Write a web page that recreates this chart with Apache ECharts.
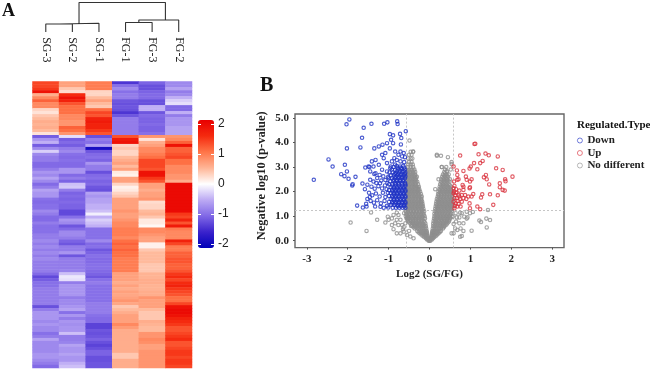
<!DOCTYPE html>
<html><head><meta charset="utf-8">
<style>html,body{margin:0;padding:0;background:#fff}#c{width:650px;height:369px}</style>
<script src="https://cdn.jsdelivr.net/npm/echarts@6/dist/echarts.min.js"></script>
</head><body><div id="c"></div>
<script>
const samples = ['SG-3','SG-2','SG-1','FG-1','FG-3','FG-2'];
const sg3 = [1.4,1.4,1.5,1.9,.6,.9,1.2,.9,.9,.3,.2,.4,.5,.6,.55,.6,.5,.2,-1.15,-.7,-.5,-1.15,-.8,-.3,
 -.8,-.9,-.9,-1.05,-1.05,-.9,-.7,-.8,-.6,-.8,-1.05,-.9,-.6,-.7,-.7,-1,-1.05,-1,-1,-.8,-.9,-1.05,-1.05,-.9,
 -1,-1,-1,-.9,-.9,-.8,-.9,-.8,-.9,-.8,-.9,-.8,-.9,-.9,-.9,-.9,-1.05,-1.3,-1.15,-1,-1,-.9,-.9,-.9,
 -.9,-.9,-.9,-1.25,-.9,-.7,-.7,-.7,-.8,-.7,-.8,-.8,-1,-.9,-.6,-.8,-.8,-.8,-.8,-.7,-.7,-.8,-.9,-1.05];
const sg2 = [.7,.7,.4,.25,1.6,1.9,1.7,1.3,1.1,1.1,1.1,.9,.9,.8,.8,1.2,1.1,.8,-.2,-1.15,-1.05,-1.15,-.9,-.8,
 -1,-1.05,-1,-1.05,-1.05,-.7,-.7,-1.05,-.9,-1.1,-.4,-.35,-.9,-1.1,-1.05,-1.1,-1.05,-1.1,-1.1,-1.3,-1.3,-1,-.7,-.8,
 -1.2,-1.05,-.8,-.8,-.9,-1.1,-1.2,-.9,-.9,-.7,-1.2,-.9,-.9,-.9,-.9,-.85,-.4,-.15,-.2,-.9,-.7,-.7,-.7,-.7,
 -.9,-.8,-.8,-.7,-.6,-1,-.7,-.9,-.7,-.75,-.7,-.7,-.4,-.9,-.9,-.85,-.6,-.7,-.7,-.6,-.7,-.7,-.5,-.4];
const sg1 = [1,1,1,.3,.3,.5,.7,.5,.4,1.1,1.4,1.3,1.7,1.8,1.7,1.7,1.5,1.3,-1.25,-.9,-1,-.6,-1.9,-1.2,
 -1.05,-1,-1.1,-.7,-.9,-.9,-1.25,-1.05,-1,-1.1,-1.05,-1.2,-1.25,-.6,-.7,-.6,-.6,-.5,-.5,-.4,-.1,-.5,-.3,-.4,
 -.5,-1,-1,-1,-1,-.8,-1.05,-1,-1.2,-1.1,-1,-1.05,-1.05,-1,-1,-1.05,-1.1,-1.2,-1,-.9,-1,-1,-1,-1,
 -1,-1,-.9,-.9,-.9,-.9,-1,-1.05,-1.05,-1.35,-1.35,-1.2,-1.25,-1.2,-1.1,-1.25,-1.35,-1.25,-1.1,-1.1,-1.25,-1.25,-1.2,-1.2];
const fg1 = [-1.45,-1,-.8,-1,-.9,-.9,-1.2,-1.25,-1.2,-1.25,-1.45,-1.2,-.9,-.9,-.9,-.9,-.9,-.9,1.3,1.8,1.9,.3,.4,.3,
 .3,.5,.6,.7,.5,.7,.15,.1,.7,.7,.3,.1,.15,.3,.4,.7,.7,.7,.7,.8,.7,.7,.8,.9,
 .9,1,1,1,.9,1.1,1.2,1.1,1.2,1.1,1.1,1,1,1,1,1,.7,.7,.7,.6,.7,.6,.7,.65,
 .7,.8,.65,.4,.5,.6,.7,.7,.7,.9,.75,.6,.6,.6,.6,.6,.6,.6,.6,.4,.4,.6,.6,.6];
const fg3 = [-1.1,-1.25,-1.25,-1.1,-1.05,-1.05,-1.25,-1.25,-.5,-.5,-1.2,-1.05,-1.1,-1.1,-1.05,-1.1,-1.1,-1,.8,.2,.6,.7,.9,.9,
 1,1.1,1.4,1.4,1.4,1.3,1.9,1.9,1.5,1.3,.7,.7,.6,.7,.7,.8,.25,.3,.3,.5,.55,.4,.15,.15,
 .05,.9,.9,.8,.7,.7,.1,.1,.4,.5,.5,.5,.5,.4,.4,.4,.55,.55,.6,.6,.55,.55,.6,.6,
 .8,.7,.7,.7,.5,.4,.4,.4,.6,.55,.5,.5,.8,.8,.9,.85,.7,.7,.8,.8,.8,.8,.8,.8];
const fg2 = [-.8,-.8,-.6,-.9,-.8,-.5,-.3,-.2,-1.05,-1.05,-.5,-.9,-.7,-.7,-.7,-.6,-.6,-.6,.8,.9,1.2,1.9,1.2,1.2,
 1.3,1.4,1.1,1.1,.9,.9,.9,.8,.8,.6,2,2,2,2,2,2,2,2,2,2,1.5,1.4,1.7,1.3,
 1.8,1,.9,.9,.9,1.7,1.4,1,1,1.2,1.2,1.3,1.3,1.2,1.2,1.3,1.5,1.6,1.4,1.6,1.7,1.5,1.4,1.3,
 1.1,1.1,1.4,1.9,2,2,1.9,1.7,1.6,1.5,1.3,1.3,1.4,1.5,1.6,1.3,1.3,1.4,1.5,1.5,1.4,1.5,1.5,1.4];
const heatColumns = [sg3,sg2,sg1,fg1,fg3,fg2];
const colorStops = ['#0000b8','#3a22cc','#8068e6','#bcaaf4','#ffffff','#ffb596','#ff7548','#f52a0f','#e80000'];
const colorTicks = [-2,-1,0,1,2];

/* dendrogram: [x1,h1,x2,h2,mergeHeight] in leaf positions / heights */
const dendroMerges = [
 [0.5,0,1.5,0,8],
 [1,8,2.5,0,8.7],
 [3.5,0,4.5,0,9.5],
 [4,9.5,5.5,0,12],
 [1.75,8.7,5.0,12,29.5]
];

const xTicks = [-3,-2,-1,0,1,2,3];
const yTicks = [0,1,2,3,4,5];
const downPoints = [
[-1.96,4.94],[-2.03,4.74],[-1.61,4.6],[-1.42,4.76],[-1.11,4.76],[-1.03,4.82],[-.79,4.86],[-.78,4.75],[-.58,4.46],[-.72,4.35],[-1.65,4.19],[-.69,4.18],[-2.02,3.76],[-1.69,3.8],[-.97,4.34],[-.89,4.29],[-.94,4.11],[-.89,3.97],[-1.04,3.97],[-1.15,3.91],[-1.24,3.84],[-1.35,3.76],[-.97,3.76],[-.7,3.92],[-2.47,3.31],[-2.37,3.02],[-2.07,3.09],[-2.16,2.71],[-2.02,2.82],[-2.08,2.63],[-1.98,2.52],[-1.81,2.6],[-1.88,2.3],[-1.89,2.25],[-1.64,2.33],[-1.77,1.43],[-1.63,1.35],[-1.54,1.39],[-1.33,1.39],[-2.83,2.48],
[-.84,3.63],[-.71,3.63],[-.63,3.57],[-.76,3.5],[-.67,3.43],[-.86,3.36],[-.8,3.29],[-.71,3.23],[-.92,3.23],[-1.08,3.57],[-1.16,3.5],[-1.32,3.29],[-1.41,3.23],[-1.49,3.02],[-1.57,2.98],[-1.12,3.36],[-1.04,3.16],[-1.24,3.09],[-1.37,3.02],[-1.45,2.82],[-1.32,2.75],[-1.16,2.89],[-1.04,2.82],[-.96,2.95],[-1.47,3],[-.6,3.4],[-.62,3.2],[-.84,3.1],
[-1.45,2.48],[-1.37,2.41],[-1.28,2.55],[-1.21,2.34],[-1.13,2.62],[-1.08,2.47],[-1.42,2.2],[-1.34,2.12],[-1.25,2.22],[-1.16,2.13],[-1.09,2.25],[-1.48,1.95],[-1.4,1.85],[-1.31,1.92],[-1.22,1.8],[-1.14,1.95],[-1.08,1.78],[-1.52,1.7],[-1.44,1.62],[-1.36,1.55],[-1.46,1.78],[-1.28,1.65],[-1.19,1.52],[-1.1,1.62],[-1.04,1.42],[-1.2,1.38],[-1.12,1.34],[-1.01,1.35],[-1.3,2.35],[-1.52,2.28],[-1.58,2.1],[-1.55,1.5],[-1.05,2.1],[-1.02,1.95],[-1.03,2.35],[-1.01,2.6],[-1.35,2.72],[-1.22,2.68],[-1.18,2.45],
[-.95,3.02],[-.88,3],[-.8,3.04],[-.72,3.02],[-.64,3.05],[-.92,2.9],[-.84,2.88],[-.76,2.9],[-.68,2.92],[-.6,2.9],
[-.98,2.78],[-.9,2.78],[-.82,2.76],[-.74,2.78],[-.66,2.8],[-.59,2.78],[-.95,2.66],[-.87,2.66],[-.79,2.66],[-.71,2.66],[-.63,2.66],
[-1,2.54],[-.92,2.54],[-.84,2.54],[-.76,2.54],[-.68,2.54],[-.6,2.54],[-.96,2.42],[-.88,2.42],[-.8,2.42],[-.72,2.42],[-.64,2.42],
[-.99,2.3],[-.91,2.3],[-.83,2.3],[-.75,2.3],[-.67,2.3],[-.59,2.3],[-.95,2.18],[-.87,2.18],[-.79,2.18],[-.71,2.18],[-.63,2.18],
[-.99,2.06],[-.91,2.06],[-.83,2.06],[-.75,2.06],[-.67,2.06],[-.59,2.06],[-.95,1.94],[-.87,1.94],[-.79,1.94],[-.71,1.94],[-.63,1.94],
[-.99,1.82],[-.91,1.82],[-.83,1.82],[-.75,1.82],[-.67,1.82],[-.59,1.82],[-.95,1.7],[-.87,1.7],[-.79,1.7],[-.71,1.7],[-.63,1.7],
[-.99,1.58],[-.91,1.58],[-.83,1.58],[-.75,1.58],[-.67,1.58],[-.59,1.58],[-.94,1.46],[-.86,1.46],[-.78,1.46],[-.7,1.46],[-.62,1.46],
[-.9,1.34],[-.82,1.34],[-.74,1.34],[-.66,1.34],[-.59,1.34],
[-.78,2.97],[-.7,2.96],[-.62,2.98],[-.8,2.83],[-.72,2.85],[-.63,2.84],[-.85,2.72],[-.77,2.72],[-.69,2.72],[-.6,2.72],[-.83,2.6],[-.75,2.6],[-.67,2.6],[-.59,2.62],
[-.88,2.48],[-.8,2.48],[-.72,2.48],[-.64,2.48],[-.84,2.36],[-.76,2.36],[-.68,2.36],[-.6,2.36],[-.91,2.24],[-.83,2.24],[-.75,2.24],[-.67,2.24],[-.59,2.24],
[-.87,2.12],[-.79,2.12],[-.71,2.12],[-.63,2.12],[-.91,2],[-.83,2],[-.75,2],[-.67,2],[-.59,2],[-.87,1.88],[-.79,1.88],[-.71,1.88],[-.63,1.88],
[-.91,1.76],[-.83,1.76],[-.75,1.76],[-.67,1.76],[-.59,1.76],[-.87,1.64],[-.79,1.64],[-.71,1.64],[-.63,1.64],[-.91,1.52],[-.83,1.52],[-.75,1.52],[-.67,1.52],[-.59,1.52],[-.78,1.4],[-.7,1.4],[-.62,1.4]
];
const upPoints = [
[1.1,3.94],[1.12,3.95],[.75,3.47],[1.2,3.52],[1.37,3.55],[1.45,3.48],[1.67,3.43],[1.3,3.25],[1.24,3.16],[1.09,3.16],[1.01,3.02],[.98,2.94],[1.17,2.91],[1.63,2.95],[1.79,2.88],[.83,2.84],[.67,2.86],[.59,3.02],[.68,2.68],[.71,2.5],[.68,2.48],[.89,2.61],[.91,2.48],[.99,2.41],[1.03,2.5],[1.33,2.58],[1.38,2.68],[1.4,2.5],[2.03,2.61],[1.85,2.5],[1.86,2.42],[1.72,2.34],[1.46,2.29],[1.72,2.18],[1.79,2.07],[1.84,2.04],[1.67,1.85],[1.48,1.89],[1.29,1.89],[1.26,1.76],[1.56,1.46],[1.17,1.39],[1.24,1.28],[.99,2.18],[.98,2.14],[.81,2.27],[.61,2.23],[.59,2.14],[.65,2.1],[.73,2.04],[.83,2.07],[1.07,1.9],[1.03,1.8],[.95,1.8],[.87,1.86],[.79,1.86],[.71,1.86],[.63,1.86],[.59,1.93],[.67,1.73],[.61,1.73],[.59,1.59],[.64,1.52],[.71,1.5],[.79,1.59],[.83,1.73],[.98,1.52],[.99,1.32],[.61,1.32],[.68,1.39],[.76,1.39],[.6,2.41],[.83,2.2],[.73,1.8],[.65,1.95],[.6,2],[.69,1.62],[.62,1.42],[.75,1.7],[.9,1.7]
];
/* rows of the dense V: first number is -log10(p), the rest are log2 fold changes */
const noDiffRows = [
[0,-.02,0,.02],[.05,-.06,-.03,.03,.06,0],[.1,-.09,-.05,-.02,.02,.05,.09],[.15,-.13,-.09,-.05,.05,.09,.12],
[.2,-.17,-.12,-.08,-.05,.05,.08,.12,.16],[.25,-.2,-.15,-.11,-.07,.06,.1,.14,.19],[.3,-.24,-.19,-.14,-.09,-.06,.06,.09,.13,.18,.22],
[.35,-.27,-.21,-.16,-.11,-.07,.07,.11,.16,.2,.25],[.4,-.3,-.25,-.2,-.15,-.1,-.07,.07,.1,.14,.19,.24,.28],
[.5,-.36,-.3,-.24,-.18,-.13,-.08,.08,.13,.18,.23,.28,.33],[.6,-.42,-.36,-.3,-.24,-.18,-.13,-.09,.09,.14,.2,.26,.32,.37],
[.7,-.47,-.41,-.35,-.29,-.23,-.17,-.1,.09,.15,.21,.27,.33,.39,.43],[.8,-.52,-.46,-.4,-.34,-.27,-.2,-.14,.1,.16,.23,.3,.37,.43,.48],
[.9,-.56,-.5,-.43,-.36,-.29,-.22,-.15,-.11,.11,.18,.25,.32,.39,.45,.51],[1,-.58,-.52,-.45,-.38,-.31,-.24,-.17,-.12,.12,.19,.26,.33,.4,.47,.54],
[1.1,-.57,-.5,-.43,-.36,-.29,-.22,-.15,.12,.18,.25,.32,.39,.46,.53],[1.2,-.58,-.52,-.45,-.38,-.31,-.24,-.17,-.13,.13,.2,.27,.34,.41,.48,.55],
[1.3,-.56,-.49,-.42,-.35,-.28,-.21,-.15,.14,.21,.28,.35,.42,.49,.56],[1.4,-.57,-.5,-.43,-.36,-.29,-.22,-.16,.15,.22,.29,.36,.43,.5,.56],
[1.5,-.56,-.49,-.42,-.35,-.28,-.21,-.17,.16,.23,.3,.37,.44,.51,.57],[1.6,-.57,-.5,-.43,-.36,-.29,-.22,-.18,.17,.24,.31,.38,.45,.52],
[1.7,-.56,-.49,-.42,-.35,-.28,-.21,.18,.25,.32,.39,.46,.53,.57],[1.8,-.57,-.5,-.43,-.36,-.29,-.22,-.19,.2,.27,.34,.41,.48,.55],
[1.9,-.56,-.49,-.42,-.35,-.28,-.21,.21,.28,.35,.42,.49,.56],[2,-.57,-.5,-.43,-.36,-.29,-.23,.22,.29,.36,.43,.5,.55],
[2.1,-.56,-.49,-.42,-.35,-.29,-.25,.24,.31,.38,.45,.52],[2.2,-.57,-.5,-.43,-.36,-.3,-.26,.25,.32,.39,.46,.53],
[2.3,-.56,-.49,-.42,-.35,-.28,.26,.33,.4,.47],[2.4,-.57,-.5,-.43,-.36,-.3,.28,.35,.42,.49],
[2.5,-.56,-.49,-.42,-.35,.29,.36,.43,.5],[2.6,-.57,-.5,-.43,-.36,-.31,.31,.38,.45],
[2.7,-.56,-.49,-.42,-.35,.33,.4,.47],[2.8,-.55,-.48,-.41,-.35,.36,.43],
[2.9,-.56,-.49,-.43,-.37,.38],[3,-.53,-.46,-.4,.3,.41],[3.1,-.52,-.46,-.41],[3.2,-.5,-.44,.54],[3.35,-.52,-.46,-.42],[3.5,-.5,-.44,.18],[3.62,-.46,-.4],
[.55,-.39,-.33,-.27,-.21,-.16,-.1,.11,.17,.23,.29,.35],[.65,-.44,-.38,-.32,-.26,-.2,-.15,.12,.18,.24,.3,.36,.41],[.75,-.5,-.43,-.37,-.31,-.25,-.19,-.12,.13,.19,.26,.33,.4,.46],[.85,-.53,-.47,-.4,-.33,-.26,-.19,.14,.21,.28,.35,.42,.48],[.95,-.54,-.47,-.4,-.33,-.26,-.19,.15,.22,.29,.36,.43,.5],[1.05,-.55,-.48,-.41,-.34,-.27,-.2,-.14,.15,.22,.29,.36,.43,.5],[1.15,-.54,-.47,-.4,-.33,-.26,-.19,.16,.23,.3,.37,.44,.51],[1.25,-.53,-.46,-.39,-.32,-.25,-.18,.17,.24,.31,.38,.45,.52],[1.35,-.53,-.46,-.39,-.32,-.25,-.18,.18,.25,.32,.39,.46,.53],[1.45,-.53,-.46,-.39,-.32,-.25,-.19,.19,.26,.33,.4,.47,.54],[1.55,-.53,-.46,-.39,-.32,-.25,-.2,.2,.27,.34,.41,.48,.55],[1.65,-.53,-.46,-.39,-.32,-.25,-.2,.21,.28,.35,.42,.49,.55],[1.75,-.53,-.46,-.39,-.32,-.25,.22,.29,.36,.43,.5,.55],[1.85,-.53,-.46,-.39,-.32,-.25,.23,.3,.37,.44,.51],[1.95,-.53,-.46,-.39,-.32,-.26,.25,.32,.39,.46,.53],[2.05,-.53,-.46,-.39,-.32,-.27,.26,.33,.4,.47,.52],[2.15,-.53,-.46,-.39,-.33,-.28,.28,.35,.42,.49],[2.25,-.53,-.46,-.39,-.33,.29,.36,.43,.5],[2.35,-.53,-.46,-.39,-.33,.3,.37,.44],[2.45,-.53,-.46,-.39,-.33,.32,.39,.46],[2.55,-.53,-.46,-.39,-.33,.34,.41],[2.65,-.53,-.46,-.39,-.35,.36,.43],[2.75,-.53,-.46,-.39,.38],[2.85,-.52,-.45,-.39]
];
const noDiffSparse = [
[1.43,1.25],[1.22,.82],[1.26,.76],[1.39,.9],[1.48,.84],[1.4,.54],[1.03,.41],[.83,.4],[.79,.19],[.75,.16],[1.06,1.17],[.93,.95],[.91,.9],[.79,1.12],[.73,.71],[.63,.5],[.68,.44],[.83,.71],[.75,1.14],[.67,.95],[.59,.68],[.64,1.12],[.57,.98],[.85,.98],[.99,1.12],[.91,1.18],[.76,.5],[.59,.3],[.54,.3],[.65,.78],[.73,.95],
[.28,3.46],[.45,3.4],[.54,3.12],[.3,3],[.42,2.84],[.22,2.5],[.14,2.1],[.18,3.46],[.52,2.9],
[-1.93,.74],[-1.54,.4],[-1.43,1.15],[-1.28,.85],[-1.08,.74],[-1,.85],[-1.02,.98],[-.92,.91],[-.88,1.05],[-.8,1.14],[-.92,.64],[-.88,.47],[-.8,.3],[-.65,.47],[-.63,.37],[-.55,.23],[-.47,.17],[-.76,1.05],[-.71,.85],[-.67,.64],[-.62,1.12],[-.84,.71],[-.59,.71],[-.76,.64],[-.8,.85],[-.55,.91],[-.39,.1],[-.71,.3],[-.63,.55],[-.49,4.08],[-.4,3.63],[-.2,1.72],[-.5,.4],[-.45,.6]
];
const thresholdX = [-.58,.585];
const thresholdY = 1.26;

const noDiffPoints = noDiffRows.flatMap(r => r.slice(1).map(x => [x, r[0]])).concat(noDiffSparse);
const heatData = [];
heatColumns.forEach((col, c) => col.forEach((v, r) => heatData.push([c, r, v])));
const rowNames = sg3.map((_, i) => i + 1);
const dendroLine = [];
dendroMerges.forEach(m => {
  dendroLine.push([m[0], m[1]], [m[0], m[4]], [m[2], m[4]], [m[2], m[3]], [null, null]);
});

const serif = '"Liberation Serif","Times New Roman",serif';
const sans = '"Liberation Sans",Arial,sans-serif';
const ringStyle = c => ({color: 'rgba(255,255,255,0)', borderColor: c, borderWidth: 1.15});

const chart = echarts.init(document.getElementById('c'), null, {renderer: 'canvas'});
chart.setOption({
  animation: false,
  backgroundColor: '#fff',
  graphic: [
    {type: 'text', left: 2, top: 2, style: {text: 'A', font: 'bold 18px ' + serif, fill: '#111'}},
    {type: 'text', left: 260, top: 76, style: {text: 'B', font: 'bold 20px ' + serif, fill: '#111'}},
    {type: 'text', left: 577, top: 120, style: {text: 'Regulated.Type', font: 'bold 11px ' + serif, fill: '#111'}}
  ],
  grid: [
    {left: 32.5, top: 81.5, width: 159.5, height: 286.5},
    {left: 32.5, top: 2, width: 159.5, height: 30},
    {left: 198, top: 120, width: 16, height: 128},
    {left: 295, top: 114, width: 269, height: 133.6, show: true, borderColor: '#666', borderWidth: 1.4, backgroundColor: '#fff'}
  ],
  xAxis: [
    {type: 'category', gridIndex: 0, data: samples, position: 'top', axisLine: {show: false}, axisTick: {show: false},
     axisLabel: {rotate: 90, margin: 19, fontFamily: serif, fontSize: 12, color: '#222'}, splitLine: {show: false}},
    {type: 'value', gridIndex: 1, min: 0, max: 6, show: false},
    {type: 'value', gridIndex: 2, min: 0, max: 1, show: false},
    {type: 'value', gridIndex: 3, min: -3.29, max: 3.29, splitLine: {show: false},
     name: 'Log2 (SG/FG)', nameLocation: 'middle', nameGap: 21,
     nameTextStyle: {fontFamily: serif, fontWeight: 'bold', fontSize: 11, color: '#222'},
     axisLine: {show: false, onZero: false},
     axisTick: {length: 2, lineStyle: {color: '#555'}, customValues: xTicks},
     axisLabel: {customValues: xTicks, margin: 6, fontFamily: serif, fontWeight: 'bold', fontSize: 11, color: '#222'}}
  ],
  yAxis: [
    {type: 'category', gridIndex: 0, data: rowNames, inverse: true, show: false},
    {type: 'value', gridIndex: 1, min: 0, max: 30, show: false},
    {type: 'value', gridIndex: 2, min: -2.13, max: 2.13, position: 'right', z: 10, splitLine: {show: false}, axisLine: {show: false, onZero: false},
     axisTick: {inside: true, length: 3, lineStyle: {color: '#fff', width: 1}, customValues: colorTicks},
     axisLabel: {customValues: colorTicks, margin: 4, fontFamily: sans, fontSize: 12, color: '#222'}},
    {type: 'value', gridIndex: 2, min: -2.13, max: 2.13, position: 'left', z: 10, splitLine: {show: false}, axisLine: {show: false, onZero: false},
     axisTick: {inside: true, length: 3, lineStyle: {color: '#fff', width: 1}, customValues: colorTicks},
     axisLabel: {show: false}},
    {type: 'value', gridIndex: 3, min: -.28, max: 5.16, splitLine: {show: false},
     name: 'Negative log10 (p-value)', nameLocation: 'middle', nameGap: 27,
     nameTextStyle: {fontFamily: serif, fontWeight: 'bold', fontSize: 12.5, color: '#222', padding: [0,0,0,10]},
     axisLine: {show: false, onZero: false},
     axisTick: {length: 2, lineStyle: {color: '#555'}, customValues: yTicks},
     axisLabel: {customValues: yTicks, margin: 6, formatter: v => v.toFixed(1), fontFamily: serif, fontWeight: 'bold', fontSize: 11, color: '#222'}}
  ],
  visualMap: {
    type: 'continuous', seriesIndex: 0, min: -2.13, max: 2.13, left: 198, top: 120, itemWidth: 16, itemHeight: 128,
    calculable: false, realtime: false, text: ['', ''], showLabel: false, padding: 0, hoverLink: false, silent: true,
    inRange: {color: colorStops}, textStyle: {fontSize: 1, color: 'rgba(0,0,0,0)'}
  },
  legend: {
    show: true, orient: 'vertical', left: 577, top: 135, itemWidth: 5, itemHeight: 5, itemGap: 1.5,
    data: ['Down','Up','No different'], selectedMode: false, padding: 0,
    itemStyle: {borderWidth: 0.8},
    textStyle: {fontFamily: serif, fontWeight: 'bold', fontSize: 11, color: '#222', padding: [0,0,0,0]}
  },
  series: [
    {type: 'heatmap', xAxisIndex: 0, yAxisIndex: 0, data: heatData, itemStyle: {borderWidth: 0}, silent: true, progressive: 0},
    {type: 'line', xAxisIndex: 1, yAxisIndex: 1, data: dendroLine, showSymbol: false, connectNulls: false, silent: true,
     lineStyle: {color: '#333', width: 1.1}, z: 3},
    {type: 'scatter', name: 'No different', xAxisIndex: 3, yAxisIndex: 4, data: noDiffPoints, symbol: 'circle', symbolSize: 3.4, itemStyle: ringStyle('#8f8f8f'), z: 3, silent: true,
     markLine: {silent: true, symbol: 'none', label: {show: false}, lineStyle: {color: '#c6c6c6', type: [2,2], width: 1}, z: 2,
       data: [{xAxis: thresholdX[0]}, {xAxis: thresholdX[1]}, {yAxis: thresholdY}]}},
    {type: 'scatter', name: 'Down', xAxisIndex: 3, yAxisIndex: 4, data: downPoints, symbol: 'circle', symbolSize: 3.4, itemStyle: ringStyle('#1f33c4'), z: 4, silent: true},
    {type: 'scatter', name: 'Up', xAxisIndex: 3, yAxisIndex: 4, data: upPoints, symbol: 'circle', symbolSize: 3.4, itemStyle: ringStyle('#d9333f'), z: 4, silent: true}
  ]
});
</script></body></html>
